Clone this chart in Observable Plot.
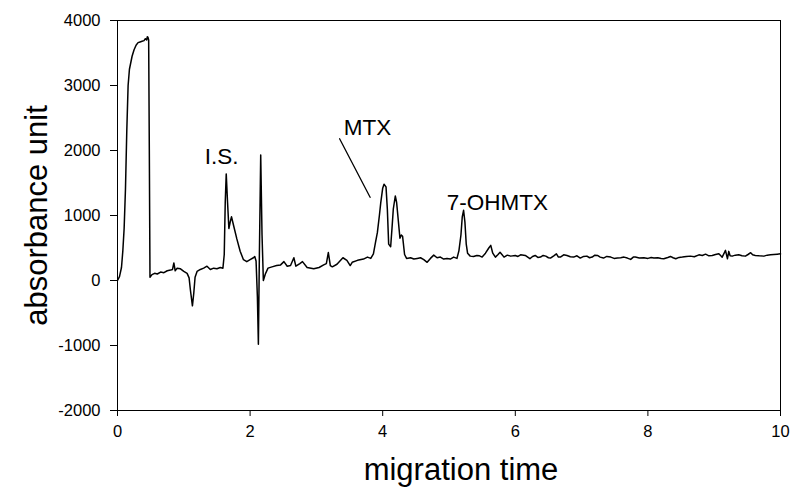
<!DOCTYPE html>
<html>
<head>
<meta charset="utf-8">
<script src="https://cdn.jsdelivr.net/npm/d3@7"></script>
<script src="https://cdn.jsdelivr.net/npm/@observablehq/plot@0.6"></script>
<style>
  html, body { margin: 0; padding: 0; background: #fff; }
  #chart svg { display: block; }
</style>
</head>
<body>
<div id="chart"></div>
<script>
// migration time (x) and absorbance (y)
const time = [
  0.00,0.03,0.06,0.08,0.10,0.12,0.14,0.16,0.18,0.20,0.22,0.25,0.28,0.31,0.34,0.37,0.40,0.42,0.44,0.45,0.46,0.47,0.48,0.49,
  0.52,0.56,0.60,0.65,0.70,0.75,0.80,0.83,0.85,0.87,0.90,0.95,1.00,1.05,1.08,1.10,1.13,1.15,1.17,1.20,1.25,1.30,1.35,1.40,
  1.45,1.50,1.55,1.59,1.61,1.625,1.64,1.66,1.68,1.70,1.72,1.75,1.80,1.85,1.90,1.95,2.00,2.05,2.07,2.09,2.11,2.125,2.14,2.16,
  2.18,2.20,2.23,2.27,2.33,2.40,2.46,2.51,2.56,2.61,2.66,2.69,2.75,2.79,2.86,2.96,3.04,3.11,3.15,3.18,3.21,3.24,3.31,3.40,
  3.46,3.51,3.54,3.62,3.71,3.77,3.82,3.86,3.89,3.92,3.95,3.97,4.00,4.02,4.05,4.07,4.09,4.12,4.14,4.16,4.19,4.21,4.23,4.26,
  4.28,4.30,4.33,4.36,4.42,4.47,4.52,4.57,4.62,4.67,4.72,4.77,4.82,4.87,4.92,4.97,5.02,5.07,5.12,5.15,5.18,5.20,5.22,5.24,
  5.26,5.28,5.32,5.37,5.42,5.46,5.50,5.55,5.60,5.63,5.66,5.70,5.74,5.77,5.83,5.88,5.93,6.00,6.04,6.08,6.15,6.22,6.26,6.30,
  6.34,6.38,6.42,6.46,6.50,6.53,6.58,6.62,6.65,6.68,6.73,6.78,6.83,6.88,6.93,6.98,7.03,7.08,7.12,7.16,7.20,7.24,7.28,7.33,
  7.38,7.44,7.49,7.54,7.59,7.64,7.69,7.74,7.78,7.81,7.87,7.94,8.00,8.05,8.09,8.15,8.20,8.24,8.30,8.34,8.38,8.42,8.47,8.52,
  8.58,8.64,8.70,8.77,8.82,8.87,8.92,8.97,9.02,9.07,9.10,9.12,9.15,9.17,9.20,9.22,9.24,9.27,9.32,9.37,9.42,9.47,9.51,9.55,
  9.58,9.62,9.68,9.75,9.80,9.85,9.90,9.95,10.00
];
const absorbance = [
  0,60,200,450,800,1400,2300,3000,3250,3350,3450,3550,3620,3660,3670,3680,3690,3720,3700,3750,3740,3700,2000,50,
  90,110,100,130,120,150,160,170,270,150,190,180,140,110,40,-150,-390,-200,50,140,170,190,220,170,
  190,180,200,190,400,1200,1640,1200,800,900,980,850,640,450,320,290,320,350,370,300,-250,-980,400,1930,
  700,0,100,190,210,230,240,290,220,230,350,220,260,290,200,180,200,240,260,430,230,210,250,350,
  310,230,280,310,330,360,340,410,580,740,1000,1190,1420,1480,1440,1100,560,520,800,1100,1300,1200,980,650,
  700,680,400,340,350,330,340,350,320,280,340,390,350,360,330,340,330,360,340,460,700,980,1080,900,
  560,420,375,370,385,380,360,420,500,540,420,360,400,435,360,390,375,385,370,395,385,335,370,385,
  355,360,385,375,350,345,380,410,360,360,395,385,365,360,380,345,370,375,350,360,390,385,360,345,
  370,360,340,345,350,360,345,325,360,360,345,350,340,355,345,350,340,335,355,370,350,335,355,360,
  370,375,365,395,385,405,380,386,400,412,380,360,420,463,335,448,380,375,390,396,380,375,400,427,
  395,386,380,375,390,396,400,405,410
];

// peak labels
const labelText = ["I.S.", "MTX", "7-OHMTX"];
const labelTime = [1.57, 3.77, 5.73];
const labelValue = [1900, 2345, 1190];

// leader line for MTX
const leaderTime = [3.35, 3.81];
const leaderValue = [2180, 1280];

const yTicks = [-2000, -1000, 0, 1000, 2000, 3000, 4000];
const xTicks = [0, 2, 4, 6, 8, 10];

const trace = time.map((t, i) => ({t, v: absorbance[i]}));
const labels = labelText.map((s, i) => ({s, t: labelTime[i], v: labelValue[i]}));
const leader = leaderTime.map((t, i) => ({t, v: leaderValue[i]}));

const font = "Arial, 'Liberation Sans', Helvetica, sans-serif";

const chart = Plot.plot({
  width: 790,
  height: 489,
  marginLeft: 117,
  marginRight: 10,
  marginTop: 20,
  marginBottom: 79,
  style: {fontFamily: font, background: "#fff", color: "#000"},
  x: {domain: [0, 10]},
  y: {domain: [-2000, 4000]},
  marks: [
    Plot.axisY(yTicks, {tickSize: 7, tickPadding: 10, fontSize: 16.5, label: null, stroke: "#000", tickFormat: d => String(d)}),
    Plot.axisX(xTicks, {tickSize: 6, tickPadding: 9, fontSize: 16.5, label: null, stroke: "#000", tickFormat: d => String(d)}),
    Plot.frame({stroke: "#000", strokeWidth: 1}),
    Plot.line(trace, {x: "t", y: "v", stroke: "#000", strokeWidth: 1.5, curve: "linear"}),
    Plot.line(leader, {x: "t", y: "v", stroke: "#000", strokeWidth: 1.3}),
    Plot.text(labels, {x: "t", y: "v", text: "s", fontSize: 22.5, fill: "#000"}),
    Plot.text(["absorbance unit"], {frameAnchor: "left", dx: -80, rotate: -90, textAnchor: "middle", lineAnchor: "middle", fontSize: 31, fill: "#000"}),
    Plot.text(["migration time"], {frameAnchor: "bottom", dx: 12, dy: 60, textAnchor: "middle", lineAnchor: "middle", fontSize: 31, fill: "#000"})
  ]
});
document.getElementById("chart").appendChild(chart);
</script>
</body>
</html>
